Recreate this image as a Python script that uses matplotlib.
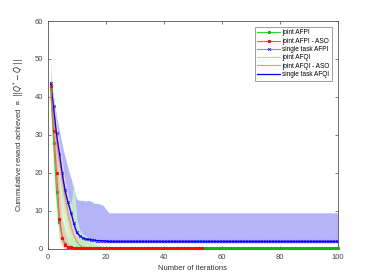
import numpy as np
import matplotlib
matplotlib.use('Agg')
from matplotlib import pyplot as plt

plt.rcParams['font.family'] = ['Liberation Sans', 'DejaVu Sans']
plt.rcParams['mathtext.fontset'] = 'dejavusans'

iters = np.arange(1, 101)
iters_aso = np.arange(1, 54)   # joint AFPI - ASO stops at 53

# joint AFPI (green, markers)
joint_afpi = [42, 28, 15, 7, 3, 1.2, 0.6, 0.4, 0.3, 0.3] + [0.2] * 90
joint_afpi_hi = [50, 36, 24, 14, 8, 5, 3.5, 3, 2.5, 3, 2.7, 2.4, 2.1, 1.8, 1.5, 1.2, 0.9, 0.6, 0.4, 0.3] + [0.25] * 80
joint_afpi_lo = [36, 20, 8, 2, 0.5, 0.1, 0, 0, 0, 0] + [0.1] * 90

# joint AFPI - ASO (red, markers)
joint_afpi_aso = [43, 31, 20, 8, 3, 1, 0.5, 0.4] + [0.3] * 45
aso_hi = [46, 36, 27, 16, 8, 4, 2, 1, 0.5] + [0.4] * 44
aso_lo = [38, 25, 12, 3, 0.8, 0.2, 0, 0, 0] + [0.2] * 44

# joint AFQI (light green)
joint_afqi = [41, 35, 29, 23, 17, 12, 8, 5, 3, 1.5, 0.8, 0.4] + [0.2] * 88
afqi_hi = [46, 40, 34, 28, 23, 18, 14, 12, 18, 8, 5, 4, 3.5, 3, 2.5, 2, 1.5, 1, 0.6, 0.3] + [0.2] * 80
afqi_lo = [38, 28, 20, 14, 9, 5, 2.5, 1, 0.3, 0] + [0] * 90

# joint AFQI - ASO (light red)
joint_afqi_aso = [40, 34, 28, 23, 18, 13.5, 9.5, 6, 3.5, 2, 1, 0.5, 0.3] + [0.3] * 87
afqi_aso_hi = [44, 39, 33, 28, 23, 18, 14, 10, 6.5, 4, 2.5, 1.5, 0.8, 0.5] + [0.4] * 86
afqi_aso_lo = [36, 29, 23, 18, 13, 9, 5.5, 3, 1.5, 0.6, 0.2, 0, 0, 0] + [0.1] * 86

# single task AFPI (light blue line, x markers)
single_afpi = [43.8, 37.5, 30.5, 25, 20, 15.5, 12.3, 9.5, 6.8, 4.5, 3.5, 3, 2.7, 2.5, 2.4, 2.3, 2.2, 2.2, 2.1, 2.1] + [2.0] * 80

# single task AFQI (blue) and its band
single_afqi = [43.5, 37, 30, 25, 19.5, 15, 12, 9.5, 6.5, 4.2, 3.4, 2.9, 2.6, 2.5, 2.4, 2.3, 2.2, 2.2, 2.1, 2.1] + [1.9] * 80
single_hi = [45, 40, 35, 31, 27, 24, 21, 18.5, 15.5, 13, 12.8, 12.8, 12.6, 12.8, 12.5, 12, 12, 11.8, 11.5, 10.5] + [9.5] * 80
single_lo = [42, 33, 26, 20, 15, 11, 8, 6, 4, 3, 2.4, 2, 1.8, 1.7, 1.7, 1.6, 1.6, 1.6, 1.6, 1.6] + [1.6] * 80

fig = plt.figure(figsize=(3.74, 2.8), dpi=100)
ax = fig.add_axes([0.128, 0.111, 0.776, 0.814])

ax.fill_between(iters, single_lo, single_hi, color='#b4b4f8', lw=0)
ax.fill_between(iters, afqi_lo, afqi_hi, color='#c8f5c8', lw=0, alpha=0.8)
ax.fill_between(iters, afqi_aso_lo, afqi_aso_hi, color='#f8c8c8', lw=0, alpha=0.7)
ax.fill_between(iters, joint_afpi_lo, joint_afpi_hi, color='#b8f0b8', lw=0, alpha=0.7)
ax.fill_between(iters_aso, aso_lo, aso_hi, color='#f8b0b0', lw=0, alpha=0.6)

ax.plot(iters, joint_afpi, color='#22dd22', lw=0.8, marker='*', ms=2, mec='#22aa22', label='joint AFPI', clip_on=False, zorder=5)
ax.plot(iters_aso, joint_afpi_aso, color='#ff5555', lw=0.8, marker='*', ms=2, mec='#ee1111', label='joint AFPI - ASO', clip_on=False, zorder=5)
ax.plot(iters, single_afpi, color='#8888ff', lw=0.8, marker='x', ms=2, mec='#2222ff', mew=0.6, label='single task AFPI')
ax.plot(iters, joint_afqi, color='#99f099', lw=0.8, label='joint AFQI')
ax.plot(iters, joint_afqi_aso, color='#ff8888', lw=0.8, label='joint AFQI - ASO')
ax.plot(iters, single_afqi, color='#0000ee', lw=0.9, label='single task AFQI')

ax.set_xlim(0, 100)
ax.set_ylim(0, 60)
ax.set_xticks(np.arange(0, 101, 20))
ax.set_yticks(np.arange(0, 61, 10))
ax.tick_params(direction='in', top=True, right=True, labelsize=5.5, colors='#444444', length=2.5, width=0.5)
for s in ax.spines.values():
    s.set_color('#555555')
    s.set_linewidth(0.6)
ax.set_xlabel('Number of iterations', fontsize=5.5, color='#333333', labelpad=3)
ax.set_ylabel(r'Cummulative reward achieved $\propto$ $||Q^{*} - Q^{\cdot}||$', fontsize=5.5, color='#333333', labelpad=6)

leg = ax.legend(loc='upper right', fontsize=4.7, frameon=True, fancybox=False, borderpad=0.4,
                handlelength=3.5, handletextpad=0.3, labelspacing=0.2, borderaxespad=0.9)
leg.get_frame().set_edgecolor('#555555')
leg.get_frame().set_linewidth(0.5)

fig.savefig('out.png', dpi=100)
